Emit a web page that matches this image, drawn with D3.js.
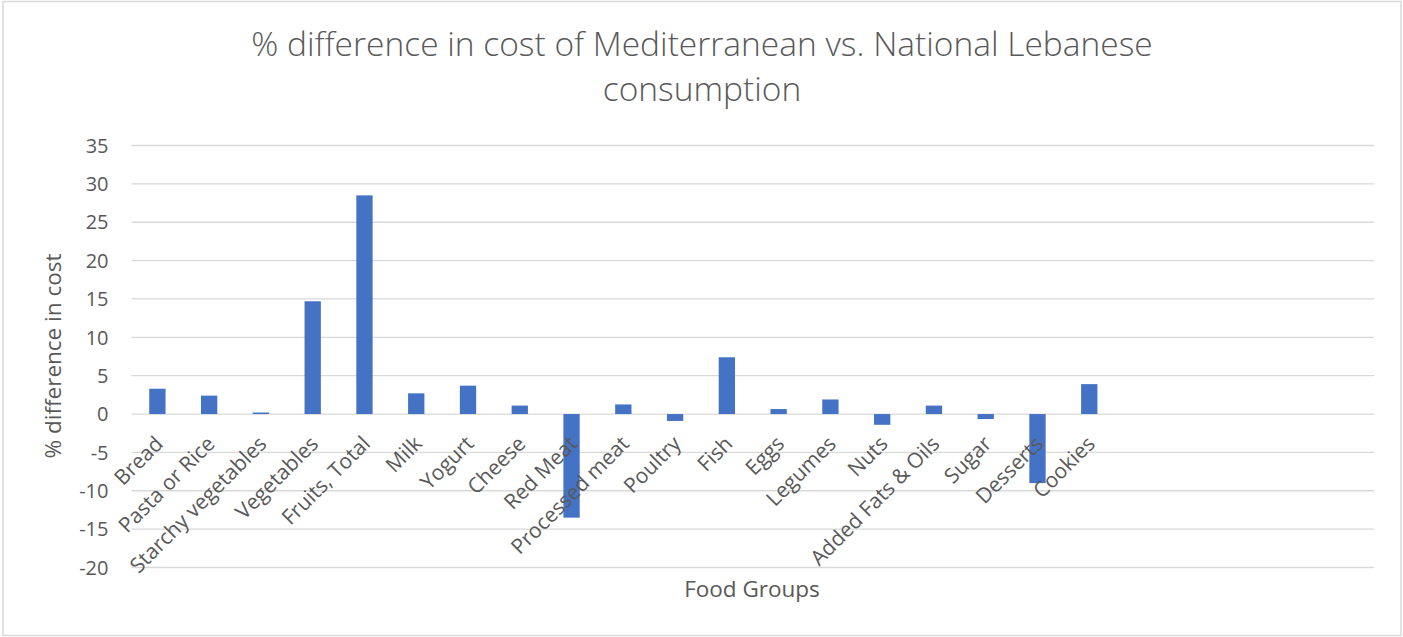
<!DOCTYPE html>
<html>
<head>
<meta charset="utf-8">
<script src="https://cdn.jsdelivr.net/npm/d3@7"></script>
<style>
  body { margin: 0; background: #fff; }
  svg text { font-family: "Open Sans", sans-serif; fill: #595959; }
</style>
</head>
<body>
<div id="chart"></div>
<script>
// food groups (the last five slots are empty in the original chart)
var categories = ["Bread", "Pasta or Rice", "Starchy vegetables", "Vegetables", "Fruits, Total",
  "Milk", "Yogurt", "Cheese", "Red Meat", "Processed meat", "Poultry", "Fish", "Eggs",
  "Legumes", "Nuts", "Added Fats & Oils", "Sugar", "Desserts", "Cookies",
  "", " ", "  ", "   ", "    "];
var values = [3.3, 2.4, 0.2, 14.7, 28.5, 2.7, 3.7, 1.1, -13.5, 1.25, -0.9, 7.4, 0.65,
  1.9, -1.4, 1.1, -0.65, -9.0, 3.9];
var yTicks = [35, 30, 25, 20, 15, 10, 5, 0, -5, -10, -15, -20];

var W = 1403, H = 637;
var margin = {top: 145.5, right: 29, bottom: 69.5, left: 131.5},
    width = W - margin.left - margin.right,
    height = H - margin.top - margin.bottom;

var svg = d3.select("#chart").append("svg")
    .attr("width", W)
    .attr("height", H);

// outer border
svg.append("rect")
    .attr("x", 3).attr("y", 1.5)
    .attr("width", W - 5).attr("height", H - 3)
    .attr("fill", "#fff")
    .attr("stroke", "#d9d9d9")
    .attr("stroke-width", 1.5);

var g = svg.append("g")
    .attr("transform", "translate(" + margin.left + "," + margin.top + ")");

var x = d3.scaleBand().domain(categories).range([0, width]).paddingInner(0.685).paddingOuter(0.3425);
var y = d3.scaleLinear().domain([-20, 35]).range([height, 0]);

// gridlines
g.selectAll(".grid")
    .data(yTicks)
    .enter().append("line")
    .attr("x1", 0).attr("x2", width)
    .attr("y1", function(d) { return y(d); })
    .attr("y2", function(d) { return y(d); })
    .attr("stroke", "#d9d9d9")
    .attr("stroke-width", 1.3);

// y tick labels
g.selectAll(".ytick")
    .data(yTicks)
    .enter().append("text")
    .attr("x", -23)
    .attr("y", function(d) { return y(d); })
    .attr("dy", "0.36em")
    .attr("text-anchor", "end")
    .style("font-size", "20px")
    .text(function(d) { return d; });

// bars
g.selectAll(".bar")
    .data(values)
    .enter().append("rect")
    .attr("x", function(d, i) { return x(categories[i]); })
    .attr("width", x.bandwidth())
    .attr("y", function(d) { return y(Math.max(0, d)); })
    .attr("height", function(d) { return Math.abs(y(d) - y(0)); })
    .attr("fill", "#4472c4");

// category labels, rotated
g.selectAll(".xlab")
    .data(categories.filter(function(c) { return c.trim() !== ""; }))
    .enter().append("text")
    .attr("text-anchor", "end")
    .style("font-size", "21px")
    .attr("transform", function(d) {
      var cx = x(d) + x.bandwidth() / 2 + 7;
      return "translate(" + cx + "," + (y(0) + 31) + ") rotate(-45)";
    })
    .text(function(d) { return d; });

// axis titles
svg.append("text")
    .attr("x", 752).attr("y", 597)
    .attr("text-anchor", "middle")
    .style("font-size", "22.5px")
    .text("Food Groups");

svg.append("text")
    .attr("transform", "translate(61,356) rotate(-90)")
    .attr("text-anchor", "middle")
    .style("font-size", "22.5px")
    .text("% difference in cost");

// chart title
var title = svg.append("text")
    .attr("text-anchor", "middle")
    .style("font-size", "33.5px")
    .style("font-weight", 300);
title.append("tspan").attr("x", 702).attr("y", 56)
    .text("% difference in cost of Mediterranean vs. National Lebanese");
title.append("tspan").attr("x", 702).attr("y", 101)
    .text("consumption");
</script>
</body>
</html>
